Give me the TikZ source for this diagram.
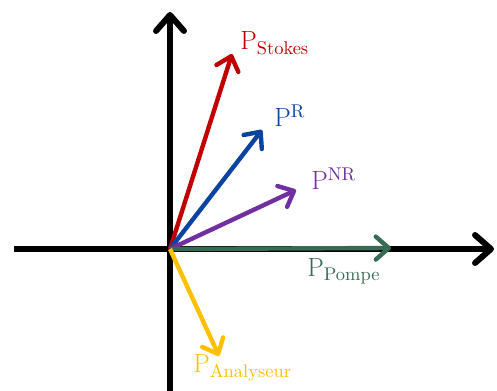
\documentclass[tikz,border=0pt]{standalone}
\usepackage{amsmath}
\usepackage{tikz}
\usetikzlibrary{arrows.meta}
\definecolor{stokescol}{HTML}{C00000}
\definecolor{rcol}{HTML}{0A44A0}
\definecolor{nrcol}{HTML}{7030A0}
\definecolor{pompecol}{HTML}{386A54}
\definecolor{analcol}{HTML}{FFC000}
\tikzset{
  axis/.style={line width=3.4pt, line cap=butt, -{Straight Barb[length=3.2mm,width=5.6mm,round]}},
  vec/.style={line width=2.5pt, -{Straight Barb[length=2.6mm,width=4.6mm,round]}},
  lab/.style={anchor=base west, inner sep=0pt, font=\fontsize{15}{18}\selectfont}
}
\begin{document}
\begin{tikzpicture}[x=0.02cm,y=-0.02cm]
\useasboundingbox (0,0) rectangle (497,391);
\coordinate (O) at (170,249);
\coordinate (xl) at (14,249);
\coordinate (xr) at (494,249);
\coordinate (yb) at (170,391);
\coordinate (yt) at (170,12);
\coordinate (tS) at (232,54);
\coordinate (tR) at (262,130);
\coordinate (tNR) at (296,190);
\coordinate (tP) at (391,248);
\coordinate (tA) at (219,356);
% axes
\draw[axis] (xl) -- (xr);
\draw[axis] (yb) -- (yt);
% vectors
\draw[vec, stokescol] (O) -- (tS);
\draw[vec, rcol] (O) -- (tR);
\draw[vec, nrcol] (O) -- (tNR);
\draw[vec, pompecol] (O) -- (tP);
\draw[vec, analcol] (O) -- (tA);
% labels
\node[lab, text=stokescol] (lS) at (240,50) {P$_{\text{Stokes}}$};
\node[lab, text=rcol] (lR) at (274,127) {P$^{\text{R}}$};
\node[lab, text=nrcol] (lNR) at (311,190) {P$^{\text{NR}}$};
\node[lab, text=pompecol] (lP) at (307,277) {P$_{\text{Pompe}}$};
\node[lab, text=analcol] (lA) at (193,373) {P$_{\text{Analyseur}}$};
\end{tikzpicture}
\end{document}
